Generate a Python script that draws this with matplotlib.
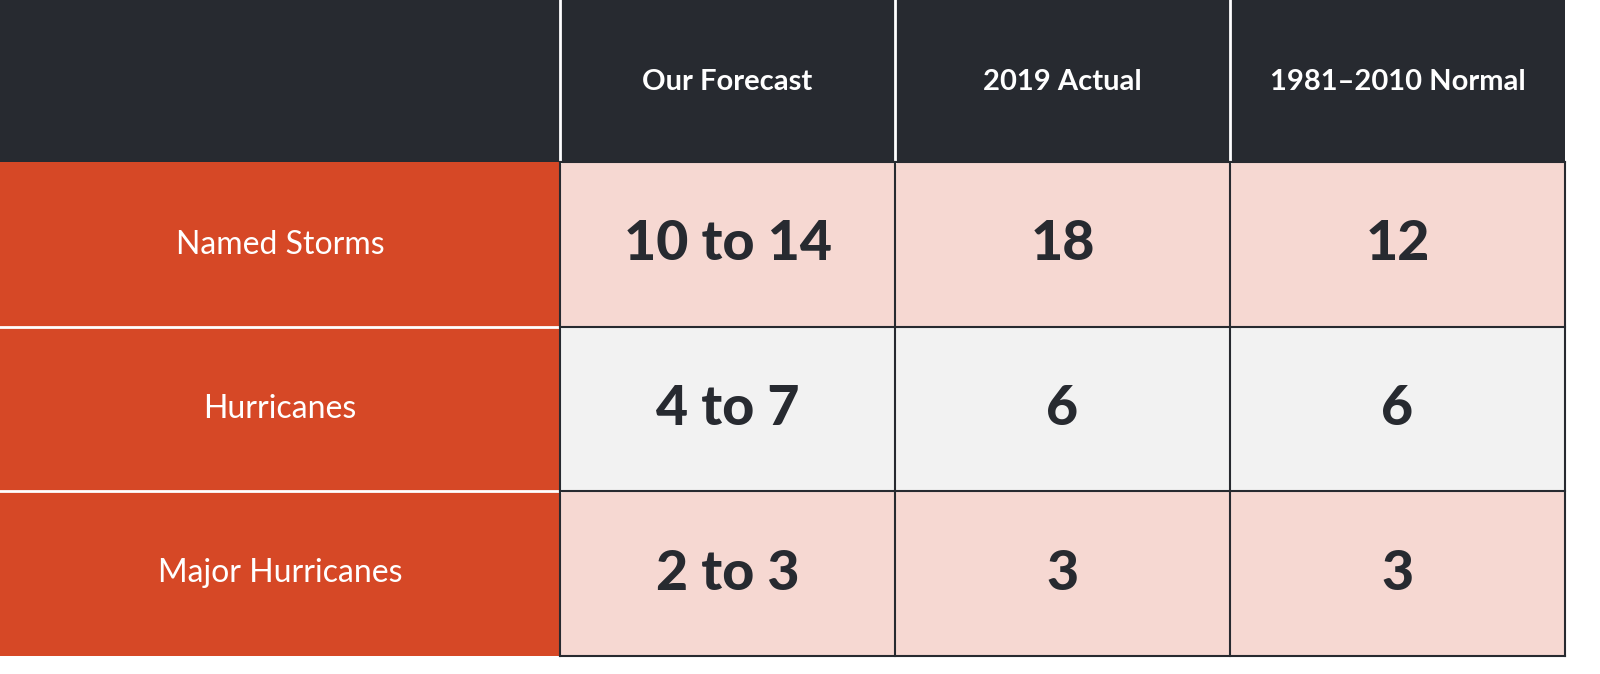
import matplotlib
matplotlib.use("Agg")
import matplotlib.pyplot as plt
from matplotlib.patches import Rectangle

columns = ["Our Forecast", "2019 Actual", "1981\u20132010 Normal"]
categories = ["Named Storms", "Hurricanes", "Major Hurricanes"]
forecast = ["10 to 14", "4 to 7", "2 to 3"]
actual_2019 = ["18", "6", "3"]
normal = ["12", "6", "3"]

HEADER = "#272a30"
ORANGE = "#d64826"
PINK = "#f6d8d2"
GRAY = "#f2f2f2"
FONT = "Lato"

fig = plt.figure(figsize=(16, 6.74), dpi=100)
ax = fig.add_axes([0, 0, 1, 1])
ax.set_xlim(0, 1600)
ax.set_ylim(674, 0)
ax.axis("off")

xs = [0, 560, 895, 1230, 1565]
ys = [0, 162, 327, 491, 656]
row_fill = [PINK, GRAY, PINK]
values = [forecast, actual_2019, normal]

ax.add_patch(Rectangle((0, 0), xs[-1], ys[1], color=HEADER, lw=0))
for j, c in enumerate(columns):
    x0, x1 = xs[j + 1], xs[j + 2]
    ax.text((x0 + x1) / 2, 82, c, color="white", fontsize=21, fontweight="bold",
            family=FONT, ha="center", va="center")
    ax.plot([x0, x0], [0, ys[1]], color="white", lw=2)

for i, cat in enumerate(categories):
    y0, y1 = ys[i + 1], ys[i + 2]
    ax.add_patch(Rectangle((0, y0), xs[1], y1 - y0, color=ORANGE, lw=0))
    ax.text(xs[1] / 2, (y0 + y1) / 2, cat, color="white", fontsize=23,
            family=FONT, ha="center", va="center")
    ax.add_patch(Rectangle((xs[1], y0), xs[-1] - xs[1], y1 - y0,
                           facecolor=row_fill[i], edgecolor="none"))
    for j in range(3):
        x0, x1 = xs[j + 1], xs[j + 2]
        ax.text((x0 + x1) / 2, (y0 + y1) / 2, values[j][i], color=HEADER,
                fontsize=40, fontweight="heavy", family=FONT,
                ha="center", va="center")

for y in ys[2:4]:
    ax.plot([0, xs[1]], [y, y], color="white", lw=2)
for y in ys[1:]:
    ax.plot([xs[1], xs[-1]], [y, y], color=HEADER, lw=1.5)
for x in xs[1:]:
    ax.plot([x, x], [ys[1], ys[-1]], color=HEADER, lw=1.5)

fig.savefig("out.png", dpi=100, facecolor="white")
